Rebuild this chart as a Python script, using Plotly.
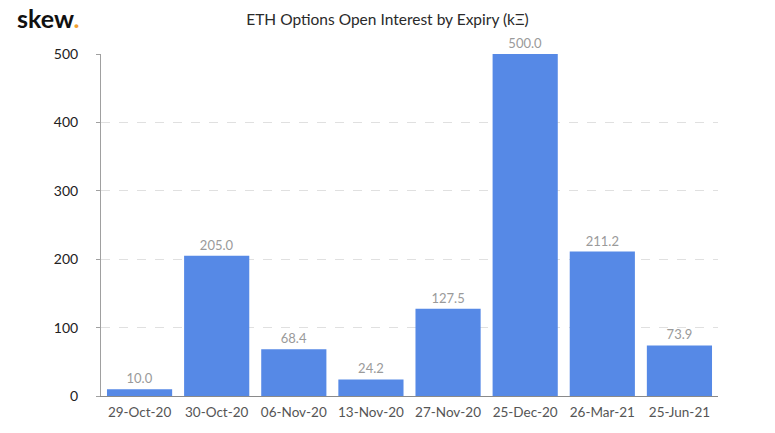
import plotly.graph_objects as go

expiries = ["29-Oct-20", "30-Oct-20", "06-Nov-20", "13-Nov-20", "27-Nov-20", "25-Dec-20", "26-Mar-21", "25-Jun-21"]
open_interest = [10.0, 205.0, 68.4, 24.2, 127.5, 500.0, 211.2, 73.9]
y_ticks = [0, 100, 200, 300, 400, 500]

fig = go.Figure()
fig.add_trace(go.Bar(
    x=expiries, y=open_interest,
    marker=dict(color="#5689e6", line=dict(width=0)),
    text=[f"{v:.1f}" for v in open_interest],
    textposition="outside",
    textfont=dict(family="Lato", size=13, color="#9a9a9a"),
    cliponaxis=False,
))

fig.update_layout(
    width=775, height=433,
    margin=dict(l=101, r=57, t=54, b=37),
    paper_bgcolor="white", plot_bgcolor="white",
    bargap=0.155,
    showlegend=False,
    title=dict(text="ETH Options Open Interest by Expiry (kΞ)", x=0.5, xanchor="center",
               y=0.955, yanchor="middle",
               font=dict(family="Lato", size=15.5, color="#2a2a2a")),
    font=dict(family="Lato"),
    xaxis=dict(showline=True, linecolor="#8a8a8a", linewidth=1, ticks="",
               ticklabelstandoff=4,
               tickfont=dict(family="Lato", size=13.5, color="#555555"), showgrid=False),
    yaxis=dict(range=[0, 500], tickvals=y_ticks, showline=True, linecolor="#a0a0a0", linewidth=1,
               ticks="outside", ticklen=4, tickcolor="#a0a0a0",
               showgrid=True, gridcolor="#e0e0e0", griddash="dash", gridwidth=1,
               zeroline=False, ticklabelstandoff=15,
               tickfont=dict(family="Lato", size=14, color="#222222")),
)

fig.add_annotation(text="<b>skew</b><b><span style='color:#f0a030'>.</span></b>", xref="paper", yref="paper",
                   x=-0.14, y=1.105, xanchor="left", yanchor="middle", showarrow=False,
                   font=dict(family="Lato", size=25, color="#111111"))

fig.write_html("out.html")
